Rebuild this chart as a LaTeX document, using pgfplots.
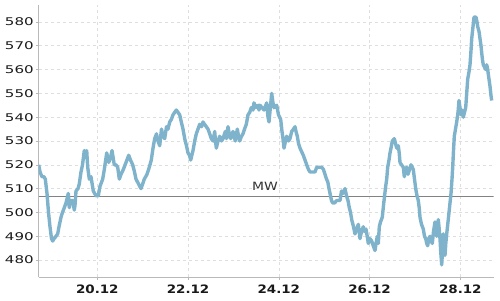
\documentclass[border=0pt]{standalone}
\usepackage{pgfplots}
\pgfplotsset{compat=1.18}
\usepackage{fontspec}
\setmainfont{DejaVu Sans}
\newfontfamily\yfont{DejaVu Sans}[FakeStretch=1.42]
\newfontfamily\xfont{DejaVu Sans}[FakeStretch=1.16]
\newfontfamily\mfont{DejaVu Sans}[FakeStretch=1.22]
\definecolor{linec}{RGB}{127,179,204}
\definecolor{axc}{RGB}{185,185,185}
\definecolor{gridc}{RGB}{222,222,222}
\definecolor{mwc}{RGB}{130,130,130}
\begin{document}
\begin{tikzpicture}
\begin{axis}[
  scale only axis,
  width=454.8pt, height=272pt,
  xmin=38.7, xmax=493.5,
  ymin=472.9, ymax=587.1,
  axis x line*=bottom, axis y line*=left,
  axis line style={axc, line width=0.8pt},
  xtick={97.3,188.05,278.8,369.55,460.3},
  xticklabels={20.12,22.12,24.12,26.12,28.12},
  ytick={480,490,...,580},
  tick align=outside,
  major tick length=2.5pt,
  tick style={axc, line width=0.6pt},
  grid=major,
  major grid style={gridc, dashed, line width=0.5pt},
  /pgf/number format/assume math mode=true,
  /pgf/number format/1000 sep={},
  yticklabel style={font=\yfont\fontsize{10.6}{12}\selectfont, text=black!90, xshift=1pt},
  xticklabel style={font=\xfont\fontsize{11.6}{13}\bfseries\selectfont, text=black!90, yshift=-2pt},
]
\addplot[mwc, line width=0.8pt] coordinates {(38.7,506.7) (493.5,506.7)};
\node[anchor=south west, inner sep=0pt, text=black!80, font=\mfont\fontsize{11.4}{13}\selectfont] at (axis cs:252,509) {MW};
\addplot[linec, line width=3.4pt, line join=round] coordinates {
(38.7,520) (40,517) (42,515) (44,515) (45.3,514) (47,508) (48.5,500) (50,494) (51.5,489) (52.7,488)
(54,489) (56,490) (57.7,491) (59,494) (61,498) (62.5,500) (64.3,502) (66,504) (68.3,508) (69.3,502)
(70.5,505) (72.7,505) (74.3,501) (75,503) (76,509) (78,510) (79.3,512) (81,517) (82.5,520) (84.3,526)
(85.5,523) (86.7,526) (87.7,519) (89.3,514) (91,515) (93.3,509) (96,507) (98.3,507) (100,511) (102.7,514)
(104.3,518) (106.7,525) (108.7,521) (110.5,523) (112,526) (114.3,520) (116,520) (117.7,519) (119.3,514) (121,516)
(123.3,518) (126,521) (128.7,524) (130.5,522) (132.7,520) (134.5,517) (136,514) (138.5,512) (141,510) (142.7,512)
(144.3,514) (147,516) (149.3,519) (151.3,522) (153,527) (154.7,531) (156.5,533) (158,530) (159.7,528) (161.5,535)
(163,532) (164.7,531) (166.5,536) (168,535) (169.7,538) (171.3,539) (173,541) (176.3,543) (178,542) (179.7,541)
(181.3,538) (183,535) (184.7,531) (186.5,528) (188,525) (189.5,524) (190.7,522) (193,526) (194.7,530) (196.3,533)
(198,535) (199.7,537) (201.5,536) (203,538) (204.5,537) (206.3,536) (208,535) (209.7,533) (211.3,531) (213,530)
(214.7,534) (215.5,530) (216.3,527) (218,530) (219.7,532) (221.5,530) (223,531) (225.3,534) (226.5,531) (228,536)
(229.3,533) (230.7,531) (233,534) (235.3,530) (237.3,535) (238.5,532) (239.7,530) (241.5,532) (243,533) (244.5,535)
(246.3,537) (248,541) (249.7,542) (251.3,544) (253,543) (254,546) (256,544) (258,545) (259,543) (260,545)
(262,544) (264,543) (266.7,546) (268,540) (269,538) (271.7,550) (273,546) (274,544) (276.7,545) (278.5,541)
(280.7,539) (282,534) (283,531) (284,527) (285.5,530) (286.7,532) (288.5,530) (290,531) (291.7,534) (293.5,535)
(295,536) (296,534) (297.3,532) (298.5,529) (300,527) (303.3,524) (305,522) (306.7,520) (308.5,518) (310,517)
(312.5,517) (315,517) (316.7,519) (318.3,519) (320,519) (321.7,519) (323.5,518) (325,516) (326.5,514) (327.7,513)
(329,510) (330,508) (331.5,505) (332.7,504) (334.5,504) (336.7,505) (338.5,505) (340,505) (341.5,509) (343,508)
(345,510) (346.5,507) (348,505) (349.3,502) (350.5,500) (351.7,497) (353.5,494) (355,491) (356.5,493) (358.3,495)
(359.2,492) (360,489) (361.5,492) (363.3,494) (364.5,492) (366,493) (367.2,490) (368.3,487) (370,489) (371.7,488)
(373.3,486) (375,484) (376,487) (377.3,490) (378.3,487) (379.3,494) (380.5,496) (382.3,498) (383.5,503) (384.3,506)
(385.7,511) (386.7,514) (387.7,519) (389,522) (390,525) (391,527) (392.3,530) (394.3,531) (395.5,529) (396.7,527)
(398.3,528) (399.2,525) (400,521) (401.5,520) (403.3,519) (404.3,515) (405.5,518) (406.7,519) (408,516) (409.5,518)
(411,520) (412.2,519) (413.3,518) (414.5,514) (415.7,510) (417,507) (418.3,505) (419.2,502) (420,498) (421.5,495)
(423.3,493) (424.5,490) (425.7,489) (426.7,487) (427.7,486) (428.8,489) (430,490) (431.2,488) (432.3,487) (433.5,492)
(435,496) (435.8,493) (436.7,490) (437.5,494) (438.3,497) (439.2,493) (440,489) (440.8,483) (441.7,478) (442.5,484)
(443.3,491) (444.2,486) (445,482) (445.8,487) (446.7,491) (448,496) (449,500) (450,504) (451,508) (452,514)
(452.7,519) (453.5,526) (454.3,532) (455.5,535) (456.7,538) (458,542) (459,547) (460,544) (461,541) (462,543)
(463.3,540) (464.5,542) (465.7,544) (466.7,550) (467.7,556) (469,559) (470,562) (471,568) (471.7,573) (473,578)
(474,582) (475,582) (476,582) (477,580) (477.7,578) (479,576) (480,573) (481,570) (481.7,567) (482.5,564)
(483.3,562) (484.5,561) (485.7,560) (486.7,562) (487.7,560) (488.3,558) (489,556) (490,553) (491,549) (491.7,547)
};
\end{axis}
\pgfresetboundingbox
\path (current axis.south west) ++(-38.7pt,-23pt) rectangle ++(500pt,300pt);
\end{tikzpicture}
\end{document}
